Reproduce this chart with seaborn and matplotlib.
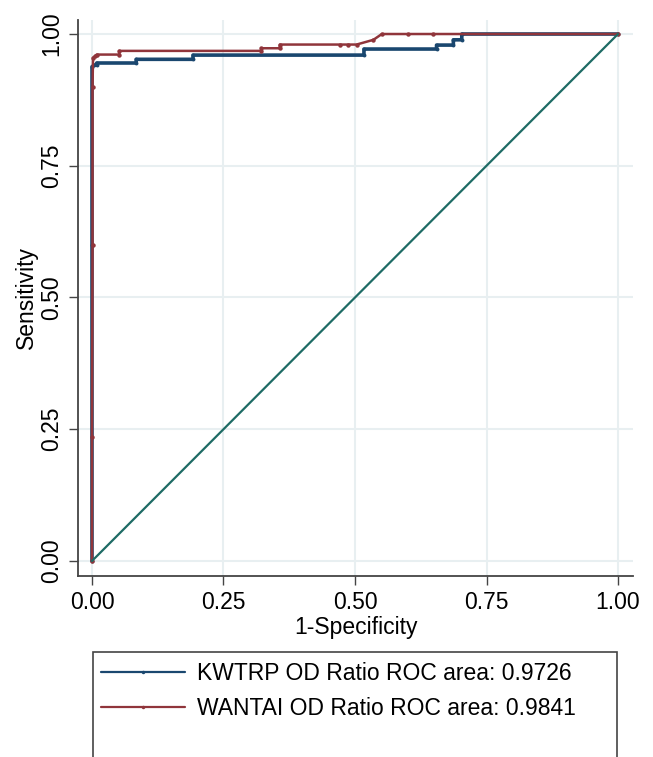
import matplotlib
matplotlib.use("Agg")
import matplotlib.pyplot as plt
from matplotlib.patches import Rectangle
import seaborn as sns
import pandas as pd

# ROC vertices
kwtrp_fpr = [0.0, 0.0, 0.0, 0.004, 0.009, 0.009, 0.084, 0.084, 0.192, 0.192,
             0.517, 0.517, 0.655, 0.655, 0.687, 0.687, 0.703, 0.703, 1.0]
kwtrp_tpr = [0.0, 0.60, 0.938, 0.941, 0.941, 0.945, 0.945, 0.952, 0.952, 0.960,
             0.960, 0.9715, 0.9715, 0.979, 0.979, 0.989, 0.989, 1.0, 1.0]

wantai_fpr = [0.0, 0.0, 0.001, 0.001, 0.002, 0.006, 0.009, 0.052, 0.052, 0.322,
              0.322, 0.357, 0.357, 0.471, 0.487, 0.503, 0.535, 0.551, 0.60, 0.648, 1.0]
wantai_tpr = [0.0, 0.235, 0.60, 0.90, 0.955, 0.958, 0.961, 0.961, 0.968, 0.968,
              0.973, 0.973, 0.980, 0.980, 0.980, 0.980, 0.989, 1.0, 1.0, 1.0, 1.0]

ref_x = [0.0, 1.0]
ref_y = [0.0, 1.0]

labels = ["KWTRP OD Ratio ROC area: 0.9726", "WANTAI OD Ratio ROC area: 0.9841"]
ticks = [0.0, 0.25, 0.5, 0.75, 1.0]
tick_labels = ["0.00", "0.25", "0.50", "0.75", "1.00"]

sns.set_style("white")
plt.rcParams['font.family'] = ['Liberation Sans', 'DejaVu Sans']
plt.rcParams['text.color'] = 'black'
plt.rcParams['axes.labelcolor'] = 'black'

W, H = 653, 757
fig = plt.figure(figsize=(W / 100, H / 100), dpi=100)
ax = fig.add_axes([78 / W, 1 - 576 / H, (633 - 78) / W, (576 - 20) / H])

navy = "#1a476f"
maroon = "#90353b"
teal = "#1e6b65"
fs = 16.5

df_k = pd.DataFrame({"fpr": kwtrp_fpr, "tpr": kwtrp_tpr})
df_w = pd.DataFrame({"fpr": wantai_fpr, "tpr": wantai_tpr})

sns.lineplot(data=df_k, x="fpr", y="tpr", sort=False, estimator=None, ax=ax,
             color=navy, linewidth=2.6, marker="o", markersize=2.8,
             markeredgewidth=0, label=labels[0])
sns.lineplot(data=df_w, x="fpr", y="tpr", sort=False, estimator=None, ax=ax,
             color=maroon, linewidth=1.8, marker="o", markersize=3.2,
             markeredgewidth=0, label=labels[1])
sns.lineplot(x=ref_x, y=ref_y, sort=False, estimator=None, ax=ax,
             color=teal, linewidth=1.6, legend=False)

ax.set_xlim(-0.0266, 1.0285)
ax.set_ylim(-0.0285, 1.0266)
ax.set_xticks(ticks)
ax.set_xticklabels(tick_labels)
ax.set_yticks(ticks)
ax.set_yticklabels(tick_labels, rotation=90, va="center")
ax.grid(True, color="#e8eff1", linewidth=1.5)
ax.set_axisbelow(True)

for s in ["top", "right"]:
    ax.spines[s].set_visible(False)
for s in ["left", "bottom"]:
    ax.spines[s].set_color("#444444")
    ax.spines[s].set_linewidth(1.3)

ax.tick_params(axis="both", which="major", direction="out", length=6.5,
               width=1.0, color="#444444", labelsize=fs, labelcolor="black",
               left=True, bottom=True, pad=4)
ax.set_xlabel("1-Specificity", fontsize=fs, labelpad=2, color="black")
ax.set_ylabel("Sensitivity", fontsize=fs, labelpad=2, color="black")

handles, lbls = ax.get_legend_handles_labels()
ax.get_legend().remove()

# legend box (cut by the figure bottom like the reference)
fig.patches.append(Rectangle((93 / W, 1 - 800 / H), (617 - 93) / W, (800 - 652) / H,
                             transform=fig.transFigure, fill=False,
                             edgecolor="#444444", linewidth=1.2))
leg = fig.legend(handles, lbls, loc="upper left",
                 bbox_to_anchor=(96 / W, 1 - 657 / H), frameon=False,
                 fontsize=fs, handlelength=3.7, handletextpad=0.5,
                 labelspacing=0.55, borderaxespad=0, borderpad=0.2,
                 labelcolor="black")
for ln in leg.get_lines():
    ln.set_linewidth(1.6)
    ln.set_markersize(2.5)

fig.savefig("out.png", dpi=100, facecolor="white")
